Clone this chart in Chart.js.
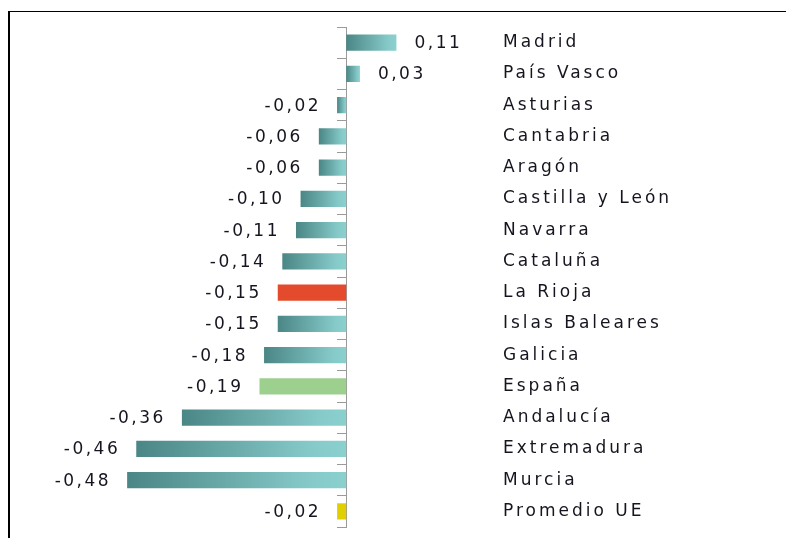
<!DOCTYPE html>
<html>
<head>
<meta charset="utf-8">
<script src="https://cdn.jsdelivr.net/npm/chart.js@4/dist/chart.umd.min.js"></script>
<style>
  html, body { margin: 0; padding: 0; background: #fff; }
  #wrap { position: relative; width: 786px; height: 538px; }
  #frame { position: absolute; left: 8px; top: 11px; width: 778px; height: 527px;
           border-top: 1px solid #000; border-left: 2px solid #000; box-sizing: border-box; }
  #chart { position: absolute; left: 0; top: 0; }
</style>
</head>
<body>
<div id="wrap">
  <div id="frame"></div>
  <canvas id="chart" width="786" height="538"></canvas>
</div>
<script>
// Regions and their values
const regions = ["Madrid", "País Vasco", "Asturias", "Cantabria", "Aragón", "Castilla y León",
  "Navarra", "Cataluña", "La Rioja", "Islas Baleares", "Galicia", "España",
  "Andalucía", "Extremadura", "Murcia", "Promedio UE"];
const values = [0.11, 0.03, -0.02, -0.06, -0.06, -0.10, -0.11, -0.14, -0.15, -0.15,
  -0.18, -0.19, -0.36, -0.46, -0.48, -0.02];

// Bars that get a flat colour instead of the teal gradient
const highlight = {"La Rioja": "#e34b2c", "España": "#9dcf8f", "Promedio UE": "#e2cf00"};

const fontFamily = "'DejaVu Sans', sans-serif";
const textColor = "#15151f";

const fmt = v => v.toFixed(2).replace('.', ',');

// Teal gradient running dark (left) to light (right) along each bar
function barColor(ctx){
    let name = regions[ctx.dataIndex];
    if(highlight[name]) return highlight[name];
    let x = ctx.chart.scales.x;
    if(!x || ctx.raw === undefined) return '#6aadac';
    let v = ctx.raw;
    let x0 = x.getPixelForValue(Math.min(v, 0));
    let x1 = x.getPixelForValue(Math.max(v, 0));
    if(!isFinite(x0) || !isFinite(x1) || x0 === x1) return '#6aadac';
    let g = ctx.chart.ctx.createLinearGradient(x0, 0, x1, 0);
    g.addColorStop(0, '#4a8685');
    g.addColorStop(0.85, '#86cbca');
    g.addColorStop(1, '#8ad0ce');
    return g;
}

// no extra top/bottom room for the vertical axes
function noPad(scale){
    scale.paddingTop = 0;
    scale.paddingBottom = 0;
}

// Value labels beside the bar ends
const valueLabels = {
    id: 'valueLabels',
    beforeDraw(chart){
        chart.ctx.letterSpacing = '3px';
    },
    afterDatasetsDraw(chart){
        const ctx = chart.ctx;
        const meta = chart.getDatasetMeta(0);
        ctx.save();
        ctx.letterSpacing = '2.5px';
        ctx.font = "17px " + fontFamily;
        ctx.fillStyle = textColor;
        ctx.textBaseline = 'middle';
        meta.data.forEach((bar, i) => {
            let v = values[i];
            if(v < 0){
                ctx.textAlign = 'right';
                ctx.fillText(fmt(v), bar.x - 16, bar.y + 1);
            } else {
                ctx.textAlign = 'left';
                ctx.fillText(fmt(v), bar.x + 18, bar.y + 1);
            }
        });
        ctx.restore();
    },
    afterDraw(chart){
        chart.ctx.letterSpacing = '0px';
    }
};

new Chart(document.getElementById('chart').getContext('2d'), {
    type: 'bar',
    data: {
        labels: regions,
        datasets: [{
            data: values,
            backgroundColor: barColor,
            borderWidth: 0,
            categoryPercentage: 1,
            barPercentage: 0.52
        }]
    },
    options: {
        indexAxis: 'y',
        responsive: false,
        animation: false,
        layout: {padding: {left: 118, top: 27, bottom: 11, right: 0}},
        plugins: {legend: {display: false}, tooltip: {enabled: false}},
        scales: {
            x: {
                display: false,
                min: -0.5,
                max: 0.326
            },
            y: {
                position: 'right',
                grid: {display: false, drawTicks: false},
                border: {display: false},
                ticks: {
                    padding: 8,
                    color: textColor,
                    font: {family: fontFamily, size: 17}
                },
                afterFit(scale){
                    scale.width = 291;
                    noPad(scale);
                }
            },
            yAxisLine: {
                type: 'category',
                axis: 'y',
                position: {x: 0},
                offset: true,
                grid: {drawOnChartArea: false, tickLength: 9, color: '#9a9a9a', offset: true},
                border: {color: '#9a9a9a', width: 1},
                ticks: {display: false},
                afterFit: noPad
            }
        }
    },
    plugins: [valueLabels]
});
</script>
</body>
</html>
